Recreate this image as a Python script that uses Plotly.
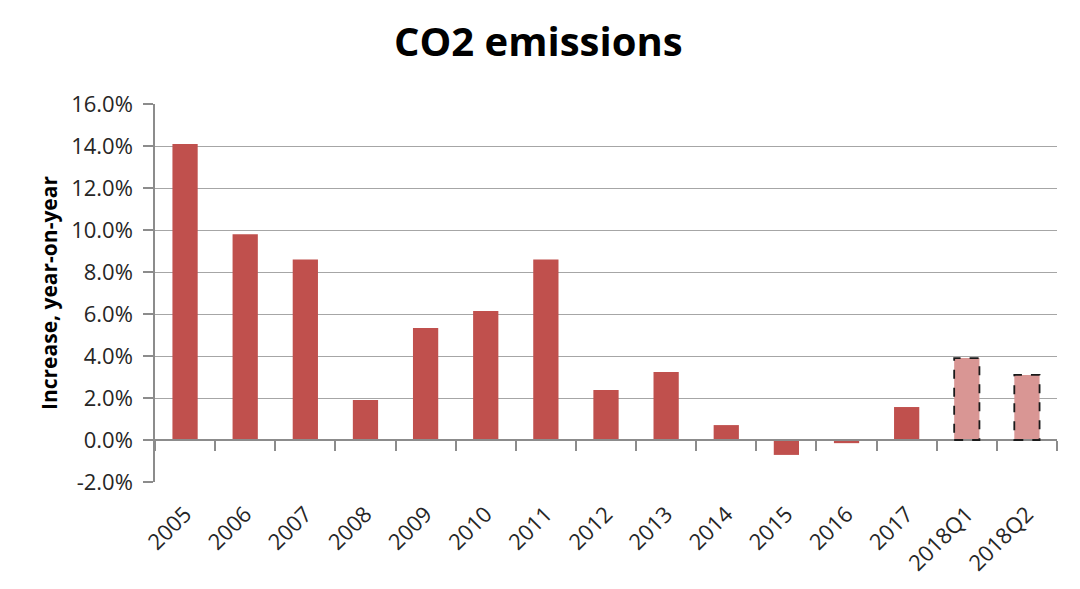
import plotly.graph_objects as go

categories = ["2005", "2006", "2007", "2008", "2009", "2010", "2011", "2012",
              "2013", "2014", "2015", "2016", "2017", "2018Q1", "2018Q2"]
values = [14.1, 9.8, 8.6, 1.9, 5.33, 6.14, 8.6, 2.38, 3.24, 0.71, -0.71, -0.15, 1.57, 3.9, 3.1]
is_estimate = [False] * 13 + [True, True]
y_ticks = [-2, 0, 2, 4, 6, 8, 10, 12, 14, 16]

solid = "#C0504D"
light = "#D99694"
bar_w = 0.42
font = "Open Sans"

colors = [light if e else solid for e in is_estimate]

fig = go.Figure()
fig.add_trace(go.Bar(
    x=categories, y=values, width=bar_w,
    marker=dict(color=colors, line=dict(width=0)),
    showlegend=False, hoverinfo="x+y",
))
# zero-line axis with boundary ticks
fig.add_trace(go.Bar(x=categories, y=[None] * len(categories), xaxis="x2",
                     showlegend=False, hoverinfo="skip"))

for i, (v, e) in enumerate(zip(values, is_estimate)):
    if e:
        fig.add_shape(type="rect", xref="x", yref="y",
                      x0=i - bar_w / 2, x1=i + bar_w / 2, y0=0, y1=v,
                      line=dict(color="#1a1a1a", width=1.8, dash="dash"))

ymin, ymax = -2, 16
fig.update_layout(
    width=1080, height=589,
    paper_bgcolor="white", plot_bgcolor="white",
    margin=dict(l=147, r=31, t=96, b=115, autoexpand=False),
    title=dict(text="<b>CO2 emissions</b>", x=0.491, xanchor="center",
               y=0.942, yanchor="middle",
               font=dict(family=font, size=40, color="black")),
    font=dict(family=font, color="#262626"),
    bargap=0.58,
    xaxis=dict(type="category", tickangle=-45, showgrid=False, showline=False,
               ticks="", ticklabelstandoff=14,
               tickfont=dict(size=22, color="#262626"),
               range=[-0.5, len(categories) - 0.5]),
    xaxis2=dict(type="category", overlaying="x", anchor="free",
                position=(0 - ymin) / (ymax - ymin),
                showline=True, linecolor="#8c8c8c", linewidth=1.5,
                ticks="outside", tickson="boundaries", ticklen=10,
                tickcolor="#8c8c8c", tickwidth=1.5,
                showticklabels=False, showgrid=False,
                range=[-0.5, len(categories) - 0.5]),
    yaxis=dict(range=[ymin, ymax], tickvals=y_ticks,
               ticktext=[f"{t:.1f}%" for t in y_ticks],
               showgrid=True, gridcolor="#a6a6a6", gridwidth=1,
               showline=True, linecolor="#8c8c8c", linewidth=1.5,
               ticks="outside", ticklen=10, tickcolor="#8c8c8c", tickwidth=1.5,
               zeroline=False, ticklabelstandoff=6,
               tickfont=dict(size=22, color="#262626"),
               title=dict(text="<b>Increase, year-on-year</b>",
                          font=dict(size=21, color="black"), standoff=8)),
)

fig.write_html("out.html")
